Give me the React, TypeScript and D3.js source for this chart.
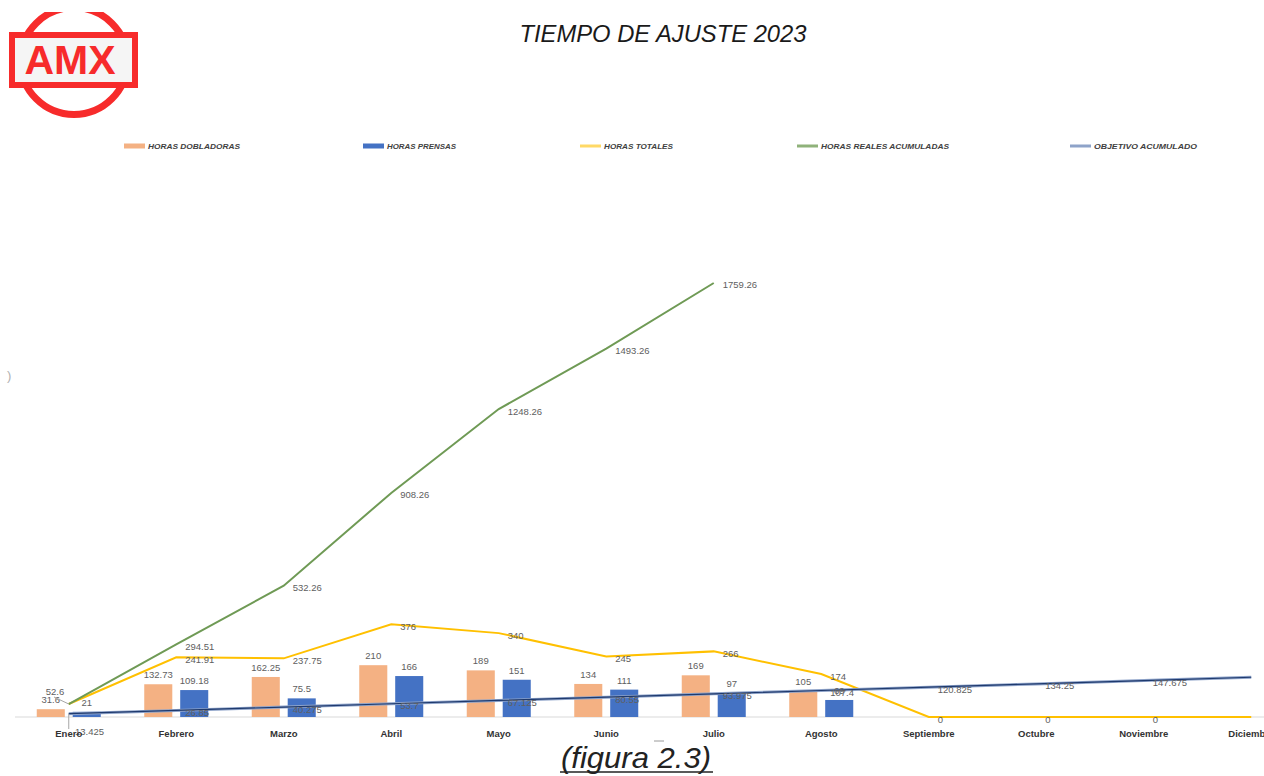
import React from "react";
import * as d3 from "d3";

const months = ["Enero", "Febrero", "Marzo", "Abril", "Mayo", "Junio", "Julio", "Agosto", "Septiembre", "Octubre", "Noviembre", "Diciembre"];
const horasDobladoras = [31.6, 132.73, 162.25, 210, 189, 134, 169, 105];
const horasPrensas = [21, 109.18, 75.5, 166, 151, 111, 97, 69];
const horasTotales = [52.6, 241.91, 237.75, 376, 340, 245, 266, 174, 0, 0, 0, 0];
const horasRealesAcumuladas = [52.6, 294.51, 532.26, 908.26, 1248.26, 1493.26, 1759.26];
const objetivoAcumulado = [13.425, 26.85, 40.275, 53.7, 67.125, 80.55, 93.975, 107.4, 120.825, 134.25, 147.675, 161.1];
const seriesNames = ["HORAS DOBLADORAS", "HORAS PRENSAS", "HORAS TOTALES", "HORAS REALES ACUMULADAS", "OBJETIVO ACUMULADO"];
const title = "TIEMPO DE AJUSTE 2023";
const caption = "(figura 2.3)";

const C_ORANGE = "#f4b183";
const C_BLUE = "#4472c4";
const C_YELLOW = "#ffc000";
const C_GREEN = "#6f9a55";
const C_OBJ = "#8ea3c9";
const C_OBJ_DARK = "#1f3a6e";
const LABEL = "#606060";

export default function App() {
  const W = 1264, H = 776;
  const x = d3.scaleBand<string>().domain(months).range([15, 1305]).padding(0);
  const y = d3.scaleLinear().domain([0, 2000]).range([717, 223.6]);
  const cx = (i: number) => (x(months[i]) as number) + x.bandwidth() / 2;
  const groupW = 64;
  const x1 = d3.scaleBand<string>().domain(["d", "p"]).range([-groupW / 2, groupW / 2]).paddingInner(0.22);

  const line = d3.line<number>().x((_, i) => cx(i)).y((v) => y(v));

  const font = "'Liberation Sans', Arial, sans-serif";

  const legendX = [124, 363, 580, 797, 1070];
  const legendTextW = [92, 69, 69, 128, 103];
  const legendColors = [C_ORANGE, C_BLUE, "#ffd966", "#8fb27a", C_OBJ];
  const legendH = [5, 5, 3, 3, 3];

  const lineLabel = (v: number, i: number, key: string) => (
    <text key={key} x={cx(i) + 9} y={y(v) + 2} fontSize={9.5} fill={LABEL} fontFamily={font} dominantBaseline="central">{String(v)}</text>
  );

  return (
    <svg width={W} height={H} style={{ position: "absolute", left: 0, top: 0, background: "#fff" }}>
      <defs>
        <clipPath id="logoClip"><rect x={0} y={12} width={160} height={120} /></clipPath>
      </defs>
      {/* Logo */}
      <g clipPath="url(#logoClip)">
        <circle cx={74} cy={61} r={53.5} fill="none" stroke="#f72b2b" strokeWidth={7} />
        <rect x={12} y={35} width={123} height={50} fill="#f5f5f5" stroke="#f72b2b" strokeWidth={6} />
        <text x={70} y={74} textAnchor="middle" fontSize={41} fontWeight="bold" fill="#f72b2b" fontFamily={font}>AMX</text>
      </g>

      {/* Title */}
      <text x={663} y={42} textAnchor="middle" fontSize={24} fontStyle="italic" fill="#1a1a1a" fontFamily={font} textLength={287} lengthAdjust="spacingAndGlyphs">{title}</text>

      {/* Legend */}
      {seriesNames.map((name, i) => (
        <g key={name}>
          <rect x={legendX[i]} y={146 - legendH[i] / 2} width={21} height={legendH[i]} fill={legendColors[i]} />
          <text x={legendX[i] + 24} y={146} dominantBaseline="central" fontSize={8} fontStyle="italic" fontWeight="bold" fill="#404040" fontFamily={font} textLength={legendTextW[i]} lengthAdjust="spacingAndGlyphs">{name}</text>
        </g>
      ))}

      {/* stray fragment at left */}
      <text x={7} y={380} fontSize={13} fill="#b0b0b0" fontFamily={font}>)</text>

      {/* Baseline */}
      <line x1={15} x2={W} y1={y(0)} y2={y(0)} stroke="#d9d9d9" strokeWidth={1} />

      {/* Bars */}
      {horasDobladoras.map((v, i) => (
        <rect key={"d" + i} x={cx(i) + (x1("d") as number)} y={y(v)} width={x1.bandwidth()} height={y(0) - y(v)} fill={C_ORANGE} />
      ))}
      {horasPrensas.map((v, i) => (
        <rect key={"p" + i} x={cx(i) + (x1("p") as number)} y={y(v)} width={x1.bandwidth()} height={y(0) - y(v)} fill={C_BLUE} />
      ))}

      {/* Lines */}
      <path d={line(horasTotales) || ""} fill="none" stroke={C_YELLOW} strokeWidth={2} />
      <path d={line(horasRealesAcumuladas) || ""} fill="none" stroke={C_GREEN} strokeWidth={2} />
      <path d={line(objetivoAcumulado) || ""} fill="none" stroke={C_OBJ} strokeWidth={3} />
      <path d={line(objetivoAcumulado) || ""} fill="none" stroke={C_OBJ_DARK} strokeWidth={1.2} />

      {/* Bar labels */}
      {horasDobladoras.map((v, i) => (
        <text key={"ld" + i} x={cx(i) + (x1("d") as number) + x1.bandwidth() / 2} y={y(v) - 9.5} textAnchor="middle" dominantBaseline="central" fontSize={9.5} fill={LABEL} fontFamily={font}>{String(v)}</text>
      ))}
      {horasPrensas.map((v, i) => (
        <text key={"lp" + i} x={cx(i) + (x1("p") as number) + x1.bandwidth() / 2} y={y(v) - 9.5} textAnchor="middle" dominantBaseline="central" fontSize={9.5} fill={LABEL} fontFamily={font}>{String(v)}</text>
      ))}

      {/* Line labels */}
      {horasTotales.map((v, i) => (i === 0 || i === 11 ? null : lineLabel(v, i, "lt" + i)))}
      {horasRealesAcumuladas.map((v, i) => (i === 0 ? null : lineLabel(v, i, "lg" + i)))}
      {objetivoAcumulado.map((v, i) => (i === 0 || i === 11 ? null : lineLabel(v, i, "lo" + i)))}

      {/* Enero special labels with leader lines */}
      <line x1={54} y1={697} x2={cx(0)} y2={y(horasRealesAcumuladas[0])} stroke="#a6a6a6" strokeWidth={1} />
      <text x={55} y={691} textAnchor="middle" dominantBaseline="central" fontSize={9.5} fill={LABEL} fontFamily={font}>{String(horasRealesAcumuladas[0])}</text>
      <line x1={cx(0)} y1={y(objetivoAcumulado[0])} x2={cx(0)} y2={729} stroke="#a6a6a6" strokeWidth={1} />
      <text x={75} y={731} dominantBaseline="central" fontSize={9.5} fill={LABEL} fontFamily={font}>{String(objetivoAcumulado[0])}</text>

      {/* Category labels */}
      {months.map((m, i) => (
        <text key={m} x={cx(i)} y={733} textAnchor="middle" dominantBaseline="central" fontSize={9.5} fontWeight={600} fill="#333" fontFamily={font}>{m}</text>
      ))}

      {/* stray small dash */}
      <line x1={654} x2={664} y1={741} y2={741} stroke="#9a9a9a" strokeWidth={1} />

      {/* Caption */}
      <text x={636} y={768} textAnchor="middle" fontSize={30} fontStyle="italic" fill="#222" fontFamily={font} textLength={150} lengthAdjust="spacingAndGlyphs">{caption}</text>
      <line x1={560} x2={713} y1={772} y2={772} stroke="#222" strokeWidth={1.5} />
    </svg>
  );
}
